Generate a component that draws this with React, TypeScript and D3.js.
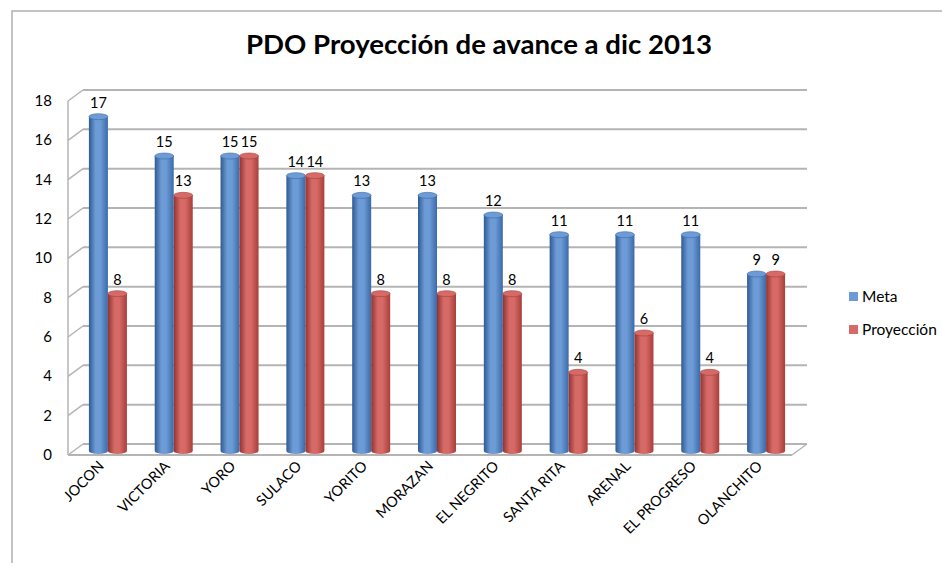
// @ts-nocheck
import React from 'react';
import * as d3 from 'd3';

const categories = ["JOCON", "VICTORIA", "YORO", "SULACO", "YORITO", "MORAZAN", "EL NEGRITO", "SANTA RITA", "ARENAL", "EL PROGRESO", "OLANCHITO"];
const metaValues = [17, 15, 15, 14, 13, 13, 12, 11, 11, 11, 9];
const proyValues = [8, 13, 15, 14, 8, 8, 8, 4, 6, 4, 9];
const seriesNames = ["Meta", "Proyección"];
const yTicks = [0, 2, 4, 6, 8, 10, 12, 14, 16, 18];

const font = "Lato, 'Open Sans', sans-serif";
const colors = { Meta: ["#3a6aa8", "#6d9bd6", "#2f5a92"], "Proyección": ["#a83d3a", "#d66a66", "#923230"] };

export default function App() {
  const width = 942, height = 563;
  // 3d depth offset
  const dx = 15, dy = -11;

  const x = d3.scaleBand().domain(categories).range([68, 792]);
  const series = d3.scaleBand().domain(seriesNames).range([-19, 19]);
  const yFront = d3.scaleLinear().domain([0, 18]).range([455, 101]);
  const yBar = d3.scaleLinear().domain([0, 18]).range([451, 97]);

  const grid = '#b4b4b4';
  const rows = categories.map((c, i) => ({ cat: c, Meta: metaValues[i], "Proyección": proyValues[i] }));

  return (
    <svg width={width} height={height} style={{ position: 'absolute', left: 0, top: 0, background: '#fff' }}>
      <defs>
        {seriesNames.map(s => (
          <linearGradient key={s} id={`g-${s === 'Meta' ? 'm' : 'p'}`} x1="0" x2="1" y1="0" y2="0">
            <stop offset="0%" stopColor={colors[s][2]} />
            <stop offset="35%" stopColor={colors[s][1]} />
            <stop offset="60%" stopColor={colors[s][1]} />
            <stop offset="100%" stopColor={colors[s][0]} />
          </linearGradient>
        ))}
      </defs>
      {/* chart frame */}
      <rect x={12} y={11} width={960} height={600} fill="none" stroke="#b0b0b0" strokeWidth={1.5} />

      <text x={479} y={54} textAnchor="middle" fontFamily={font} fontWeight="bold" fontSize={26} textLength={466} lengthAdjust="spacingAndGlyphs">PDO Proyección de avance a dic 2013</text>

      {/* back wall gridlines & side ticks */}
      {yTicks.map(t => (
        <g key={t}>
          <line x1={68 + dx} x2={792 + dx} y1={yFront(t) + dy} y2={yFront(t) + dy} stroke={grid} strokeWidth={2} />
          <line x1={68} x2={68 + dx} y1={yFront(t)} y2={yFront(t) + dy} stroke={grid} strokeWidth={1.5} />
          <text x={52} y={yFront(t) + 5} textAnchor="end" fontFamily={font} fontSize={15}>{t}</text>
        </g>
      ))}
      <line x1={68} x2={68} y1={yFront(18)} y2={yFront(0)} stroke={grid} strokeWidth={1.5} />
      {/* floor */}
      <line x1={68} x2={792} y1={yFront(0)} y2={yFront(0)} stroke={grid} strokeWidth={2} />
      <line x1={792} x2={792 + dx} y1={yFront(0)} y2={yFront(0) + dy} stroke={grid} strokeWidth={1.5} />

      {/* cylinders */}
      {rows.map(r => (
        <g key={r.cat}>
          {seriesNames.map(s => {
            const cx = x(r.cat) + x.bandwidth() / 2 + 7 + series(s) + series.bandwidth() / 2;
            const w = series.bandwidth();
            const top = yBar(r[s]);
            const bottom = yBar(0);
            const ry = 3;
            const fillId = `url(#g-${s === 'Meta' ? 'm' : 'p'})`;
            return (
              <g key={s}>
                <path d={`M${cx - w / 2},${top} L${cx - w / 2},${bottom} A${w / 2},${ry} 0 0 0 ${cx + w / 2},${bottom} L${cx + w / 2},${top} Z`} fill={fillId} />
                <ellipse cx={cx} cy={top} rx={w / 2} ry={ry} fill={colors[s][1]} stroke={colors[s][0]} strokeWidth={0.6} />
                <text x={cx} y={top - 9} textAnchor="middle" fontFamily={font} fontSize={14.5}>{r[s]}</text>
              </g>
            );
          })}
        </g>
      ))}

      {/* category labels */}
      {categories.map(c => {
        const lx = x(c) + x.bandwidth() / 2 + 4;
        const ly = 467;
        return (
          <text key={c} transform={`translate(${lx},${ly}) rotate(-45)`} textAnchor="end" fontFamily={font} fontSize={14.5}>{c}</text>
        );
      })}

      {/* legend */}
      {seriesNames.map((s, i) => (
        <g key={s} transform={`translate(849, ${292 + i * 33})`}>
          <rect width={9} height={9} fill={colors[s][1]} />
          <text x={13} y={10} fontFamily={font} fontSize={15.5}>{s}</text>
        </g>
      ))}
    </svg>
  );
}
